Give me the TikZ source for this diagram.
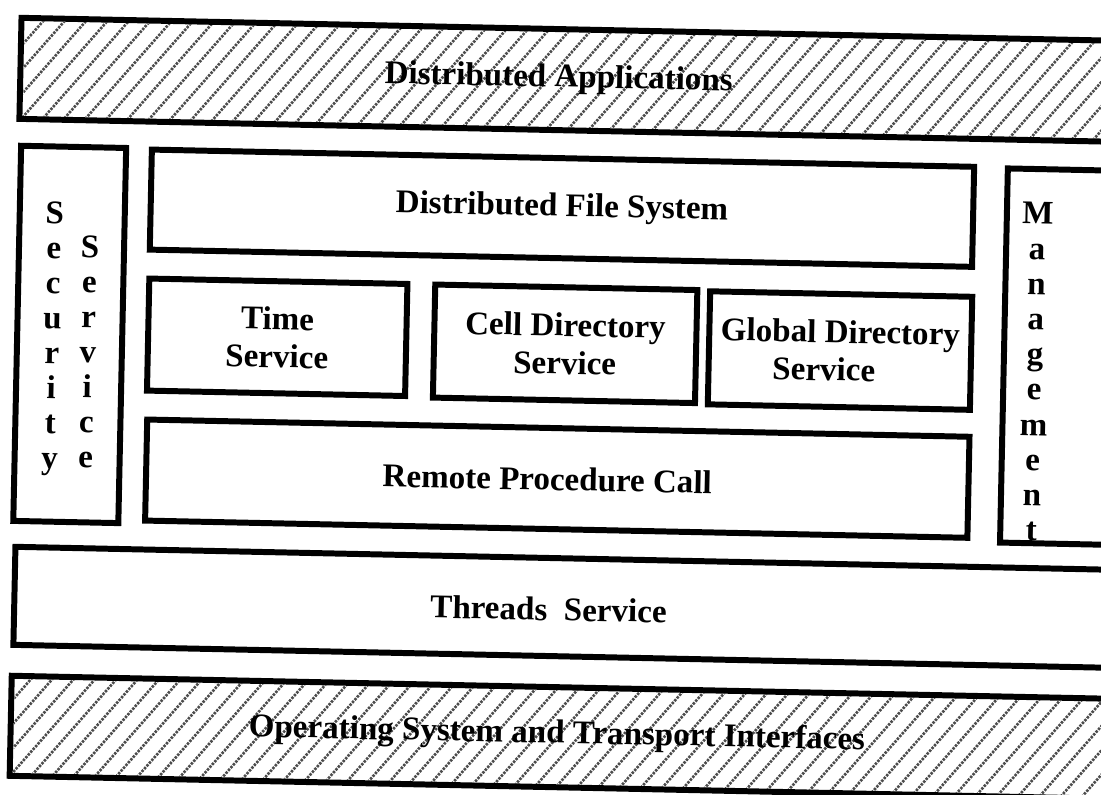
\documentclass[tikz,border=0pt]{standalone}
\usepackage{fontspec}
\setmainfont{Liberation Serif}
\begin{document}
\begin{tikzpicture}[x=0.01cm,y=-0.01cm,
  box/.style={draw, line width=1.7pt, inner sep=0pt, rectangle, transform shape},
  lbl/.style={font=\fontsize{9.4pt}{10.8pt}\selectfont\bfseries, align=center, inner sep=0pt, transform shape},
  ltr/.style={font=\fontsize{9.4pt}{10.8pt}\selectfont\bfseries, inner sep=0pt, anchor=base, transform shape},
  hatch/.style={line width=0.75pt, black!70, dash pattern=on 0.7pt off 0.35pt},
]
\useasboundingbox (0,0) rectangle (1101,794);
\fill[white] (0,0) rectangle (1101,794);
\clip (0,0) rectangle (1101,794);
\begin{scope}[rotate around={-1.2:(550,397)}]
  % hatching of the two shaded bands
  \begin{scope}
    \clip (17,32) rectangle (1135,127);
    \foreach \x in {-140,-119,...,1180} \draw[hatch] (\x,140) -- ++(125,-148);
  \end{scope}
  \begin{scope}
    \clip (21,690) rectangle (1135,784);
    \foreach \x in {-140,-119,...,1180} \draw[hatch] (\x,800) -- ++(125,-148);
  \end{scope}

  % boxes
  \node[box, minimum width=11.16cm, minimum height=1.01cm] (da) at (572,79.5) {};
  \node[lbl] (datext) at (552,79) {Distributed Applications};

  \node[box, minimum width=1.05cm, minimum height=3.75cm] (sec) at (68.5,344.5) {};

  \node[box, lbl, minimum width=8.22cm, minimum height=1.00cm] (dfs) at (558,208) {Distributed File System};

  \node[box, lbl, minimum width=2.58cm, minimum height=1.12cm] (time) at (276,343) {Time\\Service};
  \node[box, lbl, minimum width=2.62cm, minimum height=1.13cm] (cds) at (564,343.5) {Cell Directory\\Service};
  \node[box, lbl, minimum width=2.62cm, minimum height=1.13cm] (gds) at (839,344.5) {Global Directory\\Service\hspace*{9pt}};

  \node[box, minimum width=8.22cm, minimum height=1.01cm] (rpc) at (559,478.5) {};
  \node[lbl] (rpctext) at (549,479) {Remote Procedure Call};

  \node[box, minimum width=1.27cm, minimum height=3.74cm] (mgmt) at (1066.5,346) {};

  \node[box, minimum width=11.11cm, minimum height=0.98cm] (thr) at (574.5,607) {};
  \node[lbl] (thrtext) at (553,609) {Threads\ \ Service};

  \node[box, minimum width=11.12cm, minimum height=1.00cm] (os) at (574,737) {};
  \node[lbl] (ostext) at (564,735) {Operating System and Transport Interfaces};

  % vertical letter columns
  \foreach \l [count=\i from 0] in {S,e,c,u,r,i,t,y}
    \node[ltr] (seca\i) at (51,234+35*\i) {\l};
  \foreach \l [count=\i from 1] in {S,e,r,v,i,c,e}
    \node[ltr] (secb\i) at (87,232+35*\i) {\l};
  \foreach \l [count=\i from 0] in {M,a,n,a,g,e,m,e,n,t}
    \node[ltr] (mg\i) at (1034,214+35.2*\i) {\l};
\end{scope}
\end{tikzpicture}
\end{document}
